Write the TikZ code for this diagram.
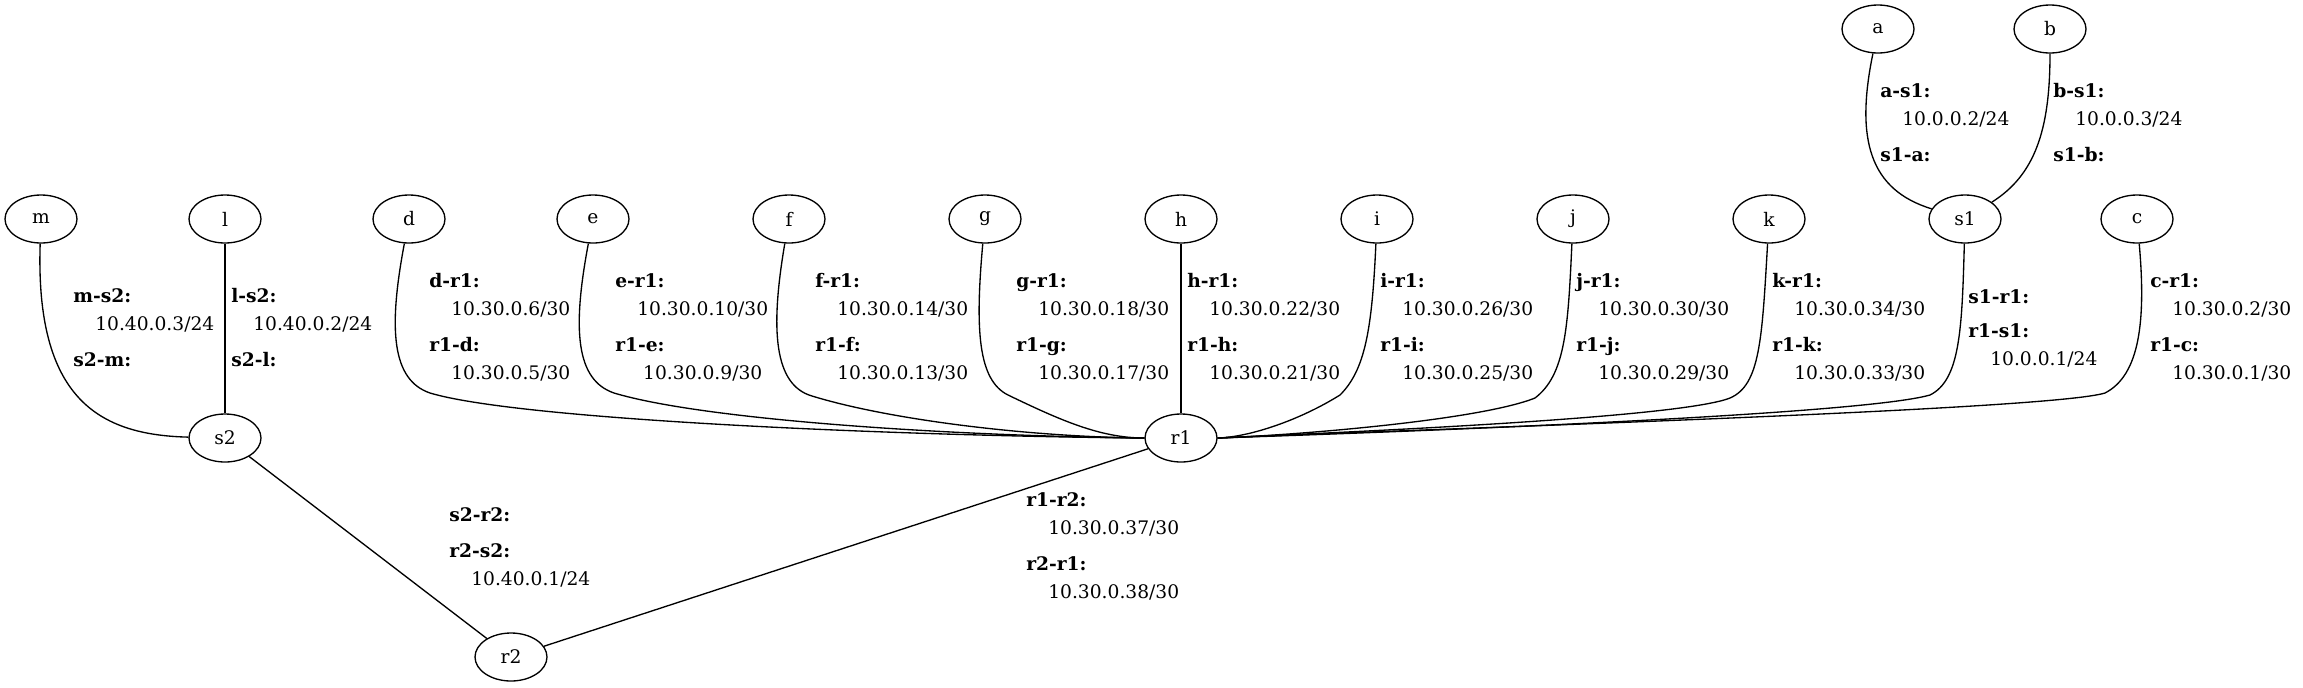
\documentclass[tikz,border=0pt]{standalone}
\usepackage{fontspec}
\setmainfont{DejaVu Serif}
\usetikzlibrary{shapes.geometric}

\newcommand{\bl}[1]{\multicolumn{1}{@{}l}{\textbf{#1:}}}
\newcommand{\addr}[1]{\begin{tabular}{@{\hspace{16.5pt}}c@{\hspace{16.5pt}}}#1\end{tabular}}

\begin{document}
\begin{tikzpicture}[x=0.75pt,y=-0.75pt]
\useasboundingbox (0,0) rectangle (2303,687);

\begin{scope}[every node/.style={ellipse,draw,line width=1pt,minimum width=54pt,minimum height=36pt,inner sep=0pt,font=\fontsize{14pt}{17pt}\selectfont}]
    \node (a) at (1878,29) {a};
    \node (b) at (2050,29) {b};
    \node (m) at (41,219) {m};
    \node (l) at (225,219) {l};
    \node (d) at (409,219) {d};
    \node (e) at (593,219) {e};
    \node (f) at (789,219) {f};
    \node (g) at (985,219) {g};
    \node (h) at (1181,219) {h};
    \node (i) at (1377,219) {i};
    \node (j) at (1573,219) {j};
    \node (k) at (1769,219) {k};
    \node (s1) at (1965,219) {s1};
    \node (c) at (2137,219) {c};
    \node (s2) at (225,438) {s2};
    \node (r1) at (1181,438) {r1};
    \node (r2) at (511,657) {r2};
\end{scope}

\begin{scope}[line width=1pt, every edge/.style={draw,line width=1pt}]
    \path [-] (l) edge (s2);
    \path [-] (h) edge (r1);
    \path [-] (s2) edge (r2);
    \path [-] (r1) edge (r2);
    \draw (a) .. controls (1855,140) and (1870,190) .. (s1);
    \draw (b) .. controls (2050,130) and (2035,175) .. (s1);
    \draw (m) .. controls (35,400) and (100,435) .. (s2);
    % left fan into r1
    \draw (d) .. controls (388,330) and (392,380) .. (430,393) .. controls (520,420) and (900,436) .. (r1.west);
    \draw (e) .. controls (572,330) and (576,380) .. (614,393) .. controls (704,420) and (950,436) .. (r1.west);
    \draw (f) .. controls (770,330) and (774,385) .. (812,396) .. controls (890,420) and (1030,437) .. (r1.west);
    \draw (g) .. controls (975,330) and (978,380) .. (1008,395) .. controls (1060,420) and (1100,438) .. (r1.west);
    % right fan into r1
    \draw (i) .. controls (1372,330) and (1365,370) .. (1340,395) .. controls (1300,420) and (1250,437) .. (r1.east);
    \draw (j) .. controls (1568,330) and (1565,375) .. (1535,398) .. controls (1480,420) and (1300,435) .. (r1.east);
    \draw (k) .. controls (1762,340) and (1760,385) .. (1730,398) .. controls (1680,418) and (1350,432) .. (r1.east);
    \draw (s1) .. controls (1962,330) and (1960,380) .. (1930,395) .. controls (1860,415) and (1400,432) .. (r1.east);
    \draw (c) .. controls (2146,320) and (2140,375) .. (2105,393) .. controls (2050,410) and (1450,428) .. (r1.east);
\end{scope}

\begin{scope}[every node/.style={anchor=west,inner sep=0pt,font=\fontsize{14pt}{21pt}\selectfont}]
    \node (as1) at (1880,123.5) {\addr{\bl{a-s1}\\10.0.0.2/24\\[6pt]\bl{s1-a}}};
    \node (bs1) at (2053,123.5) {\addr{\bl{b-s1}\\10.0.0.3/24\\[6pt]\bl{s1-b}}};
    \node (ms2) at (73,329) {\addr{\bl{m-s2}\\10.40.0.3/24\\[6pt]\bl{s2-m}}};
    \node (ls2) at (231,329) {\addr{\bl{l-s2}\\10.40.0.2/24\\[6pt]\bl{s2-l}}};
    \node (dr1) at (429,327.5) {\addr{\bl{d-r1}\\10.30.0.6/30\\[6pt]\bl{r1-d}\\10.30.0.5/30}};
    \node (er1) at (615,327.5) {\addr{\bl{e-r1}\\10.30.0.10/30\\[6pt]\bl{r1-e}\\10.30.0.9/30}};
    \node (fr1) at (815,327.5) {\addr{\bl{f-r1}\\10.30.0.14/30\\[6pt]\bl{r1-f}\\10.30.0.13/30}};
    \node (gr1) at (1016,327.5) {\addr{\bl{g-r1}\\10.30.0.18/30\\[6pt]\bl{r1-g}\\10.30.0.17/30}};
    \node (hr1) at (1187,327.5) {\addr{\bl{h-r1}\\10.30.0.22/30\\[6pt]\bl{r1-h}\\10.30.0.21/30}};
    \node (ir1) at (1380,327.5) {\addr{\bl{i-r1}\\10.30.0.26/30\\[6pt]\bl{r1-i}\\10.30.0.25/30}};
    \node (jr1) at (1576,327.5) {\addr{\bl{j-r1}\\10.30.0.30/30\\[6pt]\bl{r1-j}\\10.30.0.29/30}};
    \node (kr1) at (1772,327.5) {\addr{\bl{k-r1}\\10.30.0.34/30\\[6pt]\bl{r1-k}\\10.30.0.33/30}};
    \node (s1r1) at (1968,329) {\addr{\bl{s1-r1}\\[5pt]\bl{r1-s1}\\10.0.0.1/24}};
    \node (cr1) at (2150,327.5) {\addr{\bl{c-r1}\\10.30.0.2/30\\[6pt]\bl{r1-c}\\10.30.0.1/30}};
    \node (s2r2) at (449,548) {\addr{\bl{s2-r2}\\[6pt]\bl{r2-s2}\\10.40.0.1/24}};
    \node (r1r2) at (1026,546.5) {\addr{\bl{r1-r2}\\10.30.0.37/30\\[6pt]\bl{r2-r1}\\10.30.0.38/30}};
\end{scope}
\end{tikzpicture}
\end{document}
